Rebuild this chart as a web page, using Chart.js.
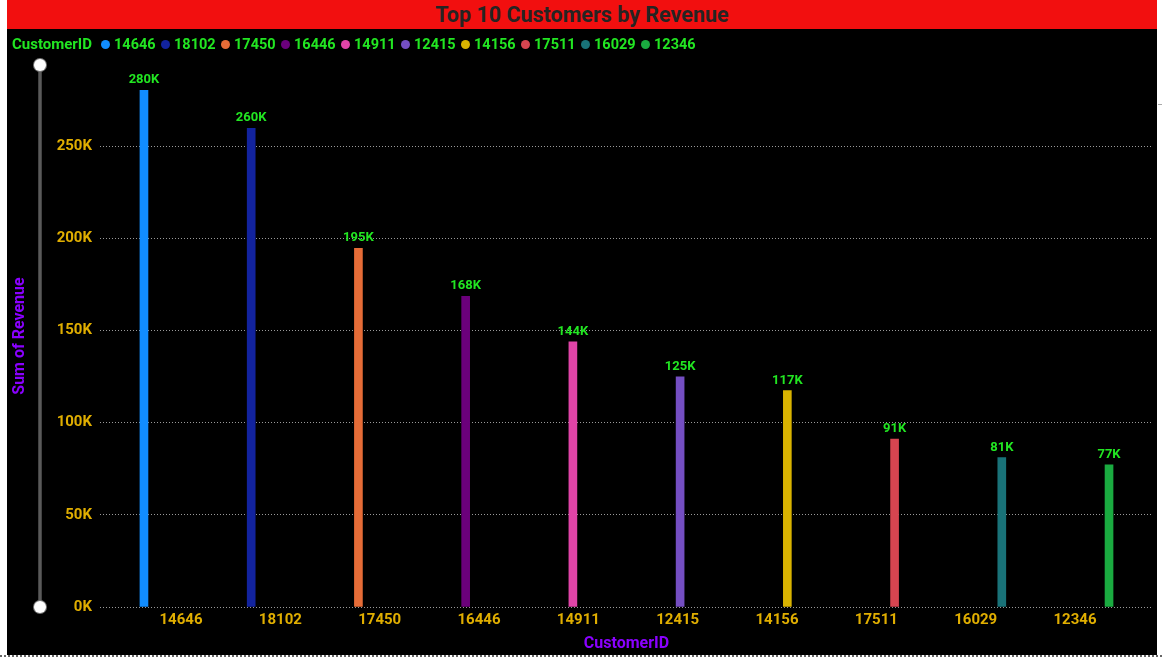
<!DOCTYPE html>
<html>
<head>
<meta charset="utf-8">
<script src="https://cdn.jsdelivr.net/npm/chart.js@4.4.1/dist/chart.umd.min.js"></script>
<style>
  html, body { margin:0; padding:0; background:#fff; width:1162px; height:668px; overflow:hidden; }
  #frame { position:absolute; left:7px; top:0; width:1150px; height:655px; background:#000; }
  #c { position:absolute; left:0; top:0; }
  #title { position:absolute; left:0; top:0; width:1150px; height:29px; background:#F20F0F;
           color:#252423; font:bold 21.5px Roboto, sans-serif; line-height:29px; text-align:center; }
  #legend { position:absolute; left:5px; top:35px; height:18px; display:flex; align-items:center;
            font:bold 14.5px Roboto, sans-serif; color:#22E622; white-space:nowrap; }
  #legend .lt { margin-right:9px; font-size:15px; }
  #legend .it { display:flex; align-items:center; margin-right:5.4px; }
  #legend .dot { width:9px; height:9px; border-radius:50%; margin-right:4px; }
  #bottom { position:absolute; left:0; top:655px; width:1162px; height:0; border-top:2px dotted #666; }
  #rtick { position:absolute; left:1158px; top:104px; width:4px; height:1px; background:#aaa; }
</style>
</head>
<body>
<div id="frame">
  <canvas id="c" width="1150" height="655"></canvas>
  <div id="title">Top 10 Customers by Revenue</div>
  <div id="legend"></div>
</div>
<div id="bottom"></div>
<div id="rtick"></div>
<script>
const customers = ['14646','18102','17450','16446','14911','12415','14156','17511','16029','12346'];
const revenue = [280206, 259657, 194551, 168472, 143825, 124914, 117379, 91062, 81024, 77183];
const colors = ['#118DFF','#12239E','#E66C37','#6B007B','#E044A7','#744EC2','#D9B300','#D64550','#197278','#1AAB40'];
const yTickValues = [0, 50000, 100000, 150000, 200000, 250000];

const GOLD = '#E0AE00';
const PURPLE = '#8A00FF';
const GREEN = '#22E622';
const FONT = 'Roboto';

// HTML legend built from the arrays
const leg = document.getElementById('legend');
const lt = document.createElement('span'); lt.className = 'lt'; lt.textContent = 'CustomerID'; leg.appendChild(lt);
customers.forEach((c, i) => {
  const it = document.createElement('span'); it.className = 'it';
  const d = document.createElement('span'); d.className = 'dot'; d.style.background = colors[i];
  const t = document.createElement('span'); t.textContent = c;
  it.appendChild(d); it.appendChild(t); leg.appendChild(it);
});

const fmtK = v => Math.round(v / 1000) + 'K';

const dataLabels = {
  id: 'dataLabels',
  afterDatasetsDraw(chart) {
    const ctx = chart.ctx;
    const meta = chart.getDatasetMeta(0);
    ctx.save();
    ctx.font = 'bold 13px ' + FONT;
    ctx.fillStyle = GREEN;
    ctx.textAlign = 'center';
    ctx.textBaseline = 'alphabetic';
    meta.data.forEach((bar, i) => ctx.fillText(fmtK(revenue[i]), bar.x, bar.y - 7));
    ctx.restore();
  }
};

const slider = {
  id: 'slider',
  afterDraw(chart) {
    const ctx = chart.ctx;
    const a = chart.chartArea;
    const x = 33;
    ctx.save();
    ctx.strokeStyle = '#5a5a5a';
    ctx.lineWidth = 3.5;
    ctx.beginPath(); ctx.moveTo(x, a.top); ctx.lineTo(x, a.bottom); ctx.stroke();
    [a.top, a.bottom].forEach(y => {
      ctx.beginPath(); ctx.arc(x, y, 7, 0, Math.PI * 2); ctx.fillStyle = '#777'; ctx.fill();
      ctx.beginPath(); ctx.arc(x, y, 6, 0, Math.PI * 2); ctx.fillStyle = '#fff'; ctx.fill();
    });
    ctx.restore();
  }
};

function draw() {
  new Chart(document.getElementById('c'), {
    type: 'bar',
    data: {
      datasets: [{
        data: revenue.map((v, i) => ({ x: i, y: v })),
        backgroundColor: colors,
        barThickness: 8,
        borderWidth: 0
      }]
    },
    options: {
      responsive: false,
      animation: false,
      layout: { padding: { left: 0, right: 4, top: 65, bottom: 0 } },
      plugins: { legend: { display: false }, tooltip: { enabled: false }, title: { display: false } },
      scales: {
        x: { type: 'linear', display: false, offset: false, grid: { offset: false }, min: -0.41, max: 9.41 },
        xl: {
          type: 'linear', position: 'bottom', offset: false, min: -0.8157, max: 9.785,
          grid: { display: false, drawTicks: false, offset: false }, border: { display: false },
          afterBuildTicks: s => { s.ticks = customers.map((_, i) => ({ value: i })); },
          ticks: {
            autoSkip: false, maxRotation: 0, padding: 4, color: GOLD,
            font: { family: FONT, weight: 'bold', size: 15 },
            callback: (v, i) => customers[i]
          },
          title: { display: true, text: 'CustomerID', color: PURPLE,
                   font: { family: FONT, weight: 'bold', size: 16 }, padding: { top: 0, bottom: 1.5 } },
          afterFit: s => { s.height = 48; }
        },
        y: {
          type: 'linear', min: 0, max: 294000,
          afterBuildTicks: s => { s.ticks = yTickValues.map(v => ({ value: v })); },
          grid: { color: '#9a9a9a', lineWidth: 1, drawTicks: false },
          border: { display: false, dash: [1, 2] },
          ticks: { color: GOLD, padding: 8, font: { family: FONT, weight: 'bold', size: 15 },
                   callback: v => fmtK(v) },
          title: { display: true, text: 'Sum of Revenue', color: PURPLE,
                   font: { family: FONT, weight: 'bold', size: 16 }, padding: { top: 3.4, bottom: 0 } },
          afterFit: s => { s.width = 93; }
        }
      }
    },
    plugins: [dataLabels, slider]
  });
}
if (document.fonts && document.fonts.load) {
  Promise.all([document.fonts.load('bold 15px Roboto'), document.fonts.load('bold 13px Roboto')]).then(draw, draw);
} else draw();
</script>
</body>
</html>
